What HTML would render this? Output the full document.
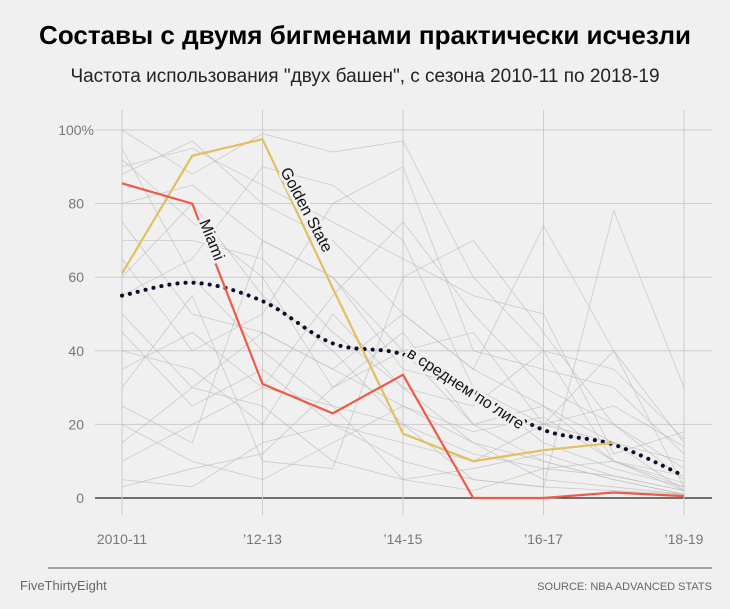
<!DOCTYPE html>
<html><head><meta charset="utf-8">
<style>
body{margin:0;background:#f0f0f0;width:730px;height:604px;overflow:hidden;font-family:"Liberation Sans","DejaVu Sans",sans-serif}
</style></head>
<body>
<svg id="chart" width="730" height="604" xmlns="http://www.w3.org/2000/svg">
<rect width="730" height="604" fill="#f0f0f0"/>
<text x="365" y="44" text-anchor="middle" font-size="26" font-weight="bold" fill="#000">Составы с двумя бигменами практически исчезли</text>
<text x="365" y="82" text-anchor="middle" font-size="19" fill="#222">Частота использования "двух башен", с сезона 2010-11 по 2018-19</text>
<g id="grid"></g>
<g id="teams"></g>
<g id="main"></g>
<line x1="48" y1="568" x2="712" y2="568" stroke="#888" stroke-width="1.5"/>
<text x="20" y="590" font-size="13" fill="#666">FiveThirtyEight</text>
<text x="712" y="590" text-anchor="end" font-size="11" fill="#666">SOURCE: NBA ADVANCED STATS</text>
</svg>
<script>
const seasons=["2010-11","2011-12","2012-13","2013-14","2014-15","2015-16","2016-17","2017-18","2018-19"];
const tickSeasons=[0,2,4,6,8];
const tickSeasonLabels=["2010-11","’12-13","’14-15","’16-17","’18-19"];
const yTicks=[0,20,40,60,80,100];
const yTickLabels=["0","20","40","60","80","100%"];
const goldenState=[61,93,97.5,57,17.5,10,13,15];
const miami=[85.5,80,31,23,33.5,0,0,1.5,0.5];
const leagueAvg=[55,58.5,53.5,42,39,29,18.5,14.5,6];
const teams=[
[100,88,99,94,97,60,40,10,3],[92,75,60,30,45,20,25,10,2],[88,97,80,70,50,35,74,40,15],
[70,70,65,45,30,15,10,5,1],[95,60,40,25,20,5,3,78,30],[35,45,30,55,75,50,30,20,5],
[25,15,70,60,40,45,20,15,10],[50,30,25,10,5,8,12,6,2],[20,10,5,15,25,18,22,10,4],
[80,85,70,60,35,30,15,8,3],[30,55,10,8,60,70,45,20,8],[65,40,50,80,90,40,35,30,12],
[5,3,15,20,10,5,3,2,1],[45,25,35,20,15,10,20,25,14],[90,95,85,75,65,55,50,12,18],
[10,20,30,25,5,2,8,6,2],[75,50,45,35,25,15,5,3,1],[40,35,20,50,30,25,40,35,16],
[60,80,55,40,20,12,8,10,6],[15,30,45,35,50,35,25,15,2],[55,65,90,85,70,30,20,40,3],
[3,8,12,30,40,20,10,5,1]
];
const X=i=>122+i*70.25, Y=v=>498-v*3.68;
const ns="http://www.w3.org/2000/svg";
function mk(tag,attrs,parent){const e=document.createElementNS(ns,tag);for(const k in attrs)e.setAttribute(k,attrs[k]);parent.appendChild(e);return e;}
const grid=document.getElementById('grid'),tg=document.getElementById('teams'),mg=document.getElementById('main');
yTicks.forEach((v,i)=>{
 const l=mk('line',{x1:95,x2:712,y1:Y(v),y2:Y(v),stroke:v===0?'#222':'#ccc','stroke-width':v===0?1.3:1},grid);
 
 
 const t=mk('text',{x:v===100?94:84,y:Y(v)+5,'text-anchor':'end','font-size':14,fill:'#777'},grid);
 t.textContent=yTickLabels[i];
 
 
});
tickSeasons.forEach((s,i)=>{
 const l=mk('line',{x1:X(s),x2:X(s),y1:110,y2:515,stroke:'#ccc','stroke-width':1},grid);
 
 
 const t=mk('text',{x:X(s),y:544,'text-anchor':'middle','font-size':14,fill:'#777'},grid);
 t.textContent=tickSeasonLabels[i];
 
 
});
const pts=a=>a.map((v,i)=>X(i)+','+Y(v)).join(' ');
teams.forEach(a=>{
 const p=mk('polyline',{points:pts(a),fill:'none',stroke:'#bbb','stroke-width':0.8,opacity:0.7},tg);
 
 
});
function smooth(a){
 const P=a.map((v,i)=>[X(i),Y(v)]);
 let d='M'+P[0][0]+','+P[0][1];
 for(let i=0;i<P.length-1;i++){
  const p0=P[Math.max(0,i-1)],p1=P[i],p2=P[i+1],p3=P[Math.min(P.length-1,i+2)];
  const c1=[p1[0]+(p2[0]-p0[0])/6,p1[1]+(p2[1]-p0[1])/6];
  const c2=[p2[0]-(p3[0]-p1[0])/6,p2[1]-(p3[1]-p1[1])/6];
  d+=` C${c1[0]},${c1[1]} ${c2[0]},${c2[1]} ${p2[0]},${p2[1]}`;
 }
 return d;
}
const avg=mk('path',{d:smooth(leagueAvg),fill:'none',stroke:'#0d0d2b','stroke-width':4,'stroke-dasharray':'0.1 8','stroke-linecap':'round'},mg);


const gs=mk('polyline',{points:pts(goldenState),fill:'none',stroke:'#e0c060','stroke-width':2.2},mg);


const mi=mk('polyline',{points:pts(miami),fill:'none',stroke:'#ec5b4a','stroke-width':2.2},mg);


function label(txt,x,y,ang,name){
 const t=mk('text',{x:x,y:y,'font-size':16,fill:'#111',transform:`rotate(${ang} ${x} ${y})`,stroke:'#f0f0f0','stroke-width':6,'paint-order':'stroke'},mg);
 t.textContent=txt;
 
 
}
label('Miami',199,222,68,'miami-label');
label('Golden State',280,171,62,'golden-state-label');
label('в среднем по лиге',406,356,33,'league-average-label');
</script>
</body></html>
